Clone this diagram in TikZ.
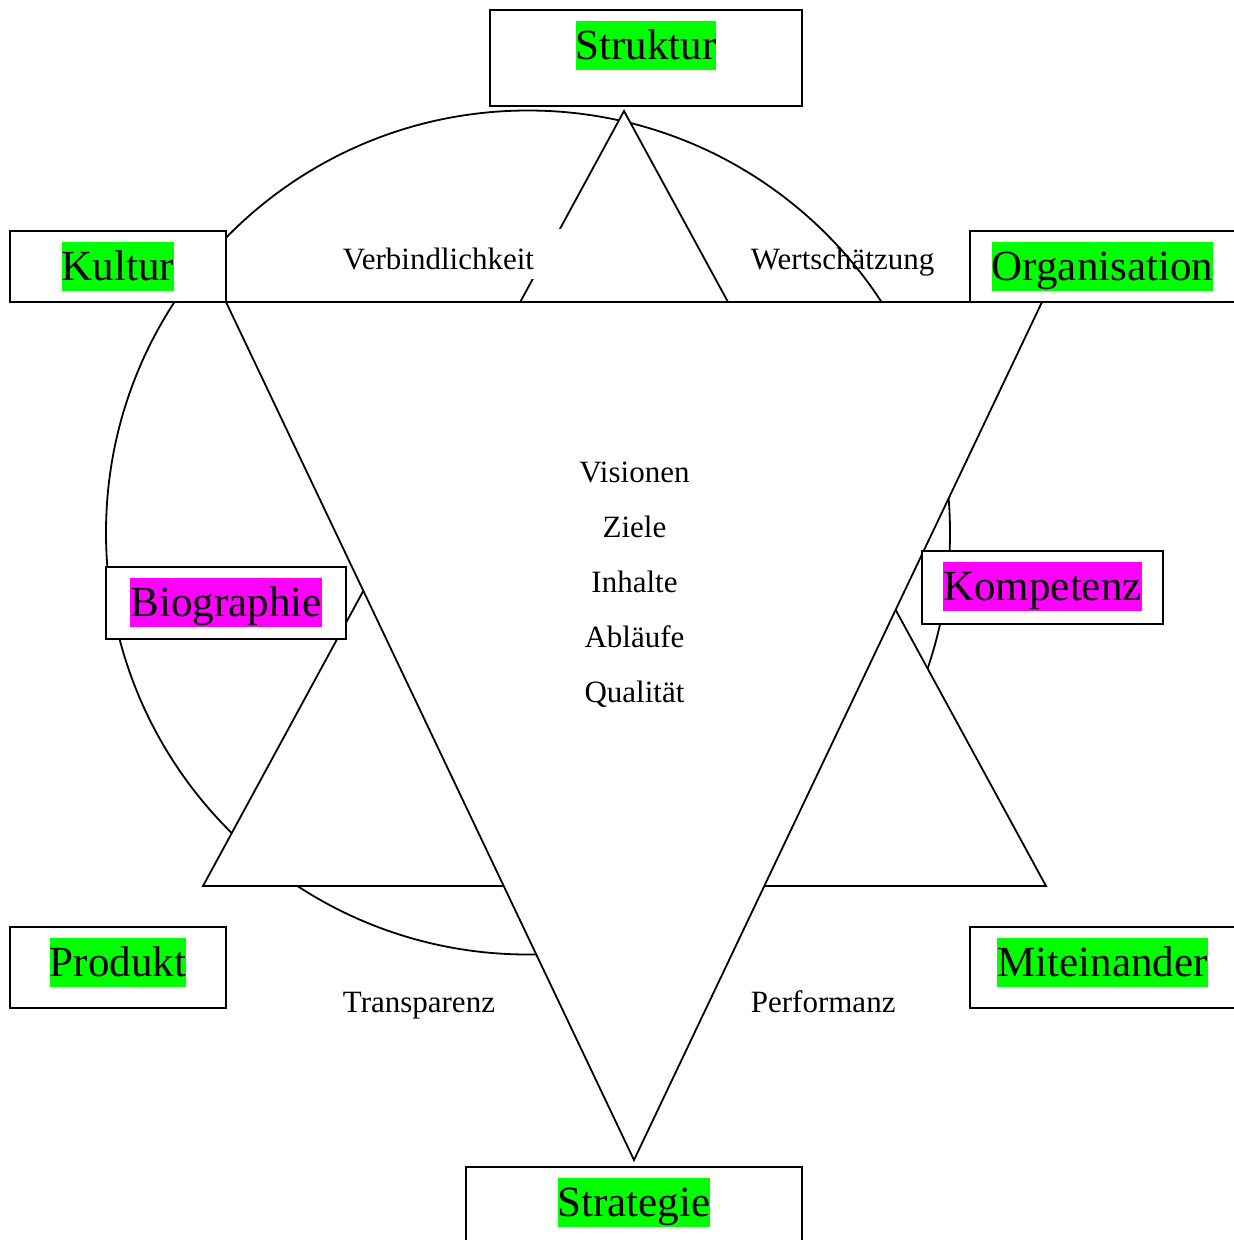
\documentclass[tikz,border=0pt]{standalone}
\usepackage{fontspec}
\setmainfont{Liberation Serif}
\usetikzlibrary{calc}
\definecolor{tagGreen}{RGB}{0,255,0}
\definecolor{tagMagenta}{RGB}{255,0,255}

\begin{document}
\begin{tikzpicture}[x=1pt,y=-1pt,
  line width=1.8pt,
  frame/.style={draw, fill=white, inner sep=0pt, outer sep=0pt},
  tag/.style={fill=#1, inner sep=0pt, outer sep=0pt, anchor=north,
    text height=38pt, text depth=11pt, font=\fontsize{43}{50}\selectfont},
  caption/.style={inner sep=0pt, font=\fontsize{31}{37}\selectfont},
  trianglefill/.style={draw, fill=white, line join=miter}
]
\useasboundingbox (0,0) rectangle (1234,1240);
\clip (0,0) rectangle (1234,1240);

% background ring
\node[circle, draw, inner sep=0pt, minimum size=844pt] (ring) at (528,532.5) {};

% upward triangle
\coordinate (upTop)   at (624,111);
\coordinate (upLeft)  at (203,886);
\coordinate (upRight) at (1046,886);
\path[trianglefill] (upTop) -- (upLeft) -- (upRight) -- cycle;

% downward triangle
\coordinate (dnLeft)   at (226,302);
\coordinate (dnRight)  at (1042,302);
\coordinate (dnBottom) at (634,1160);
\path[trianglefill] (dnLeft) -- (dnRight) -- (dnBottom) -- cycle;

% corner labels between the triangles
\node[caption, fill=white, anchor=base west, inner xsep=30pt,
      text height=40pt, text depth=10pt] (verb) at (312,269) {Verbindlichkeit};
\node[caption, anchor=base west] (wert)  at (750,269)  {Wertschätzung};
\node[caption, anchor=base west] (trans) at (342,1012) {Transparenz};
\node[caption, anchor=base west] (perf)  at (750,1012) {Performanz};

% central list
\node[caption, anchor=base] (visionen) at (634.5,482) {Visionen};
\node[caption, anchor=base] (ziele)    at (634.5,537) {Ziele};
\node[caption, anchor=base] (inhalte)  at (634.5,592) {Inhalte};
\node[caption, anchor=base] (ablaeufe) at (634.5,647) {Abläufe};
\node[caption, anchor=base] (qualitaet) at (634.5,702) {Qualität};

% framed keywords
\node[frame, minimum width=312pt, minimum height=96pt] (struktur) at (646,58) {};
\node[tag=tagGreen] (strukturTag) at ($(struktur.north)+(0,11)$) {Struktur};

\node[frame, minimum width=216pt, minimum height=71pt] (kultur) at (118,266.5) {};
\node[tag=tagGreen] (kulturTag) at ($(kultur.north)+(0,11)$) {Kultur};

\node[frame, minimum width=265pt, minimum height=71pt] (organisation) at (1102.5,266.5) {};
\node[tag=tagGreen] (organisationTag) at ($(organisation.north)+(0,11)$) {Organisation};

\node[frame, minimum width=240pt, minimum height=72pt] (biographie) at (226,603) {};
\node[tag=tagMagenta] (biographieTag) at ($(biographie.north)+(0,11)$) {Biographie};

\node[frame, minimum width=241pt, minimum height=73pt] (kompetenz) at (1042.5,587.5) {};
\node[tag=tagMagenta] (kompetenzTag) at ($(kompetenz.north)+(0,11)$) {Kompetenz};

\node[frame, minimum width=216pt, minimum height=81pt] (produkt) at (118,967.5) {};
\node[tag=tagGreen] (produktTag) at ($(produkt.north)+(0,11)$) {Produkt};

\node[frame, minimum width=265pt, minimum height=81pt] (miteinander) at (1102.5,967.5) {};
\node[tag=tagGreen] (miteinanderTag) at ($(miteinander.north)+(0,11)$) {Miteinander};

\node[frame, minimum width=336pt, minimum height=96pt] (strategie) at (634,1215) {};
\node[tag=tagGreen] (strategieTag) at ($(strategie.north)+(0,11)$) {Strategie};
\end{tikzpicture}
\end{document}
